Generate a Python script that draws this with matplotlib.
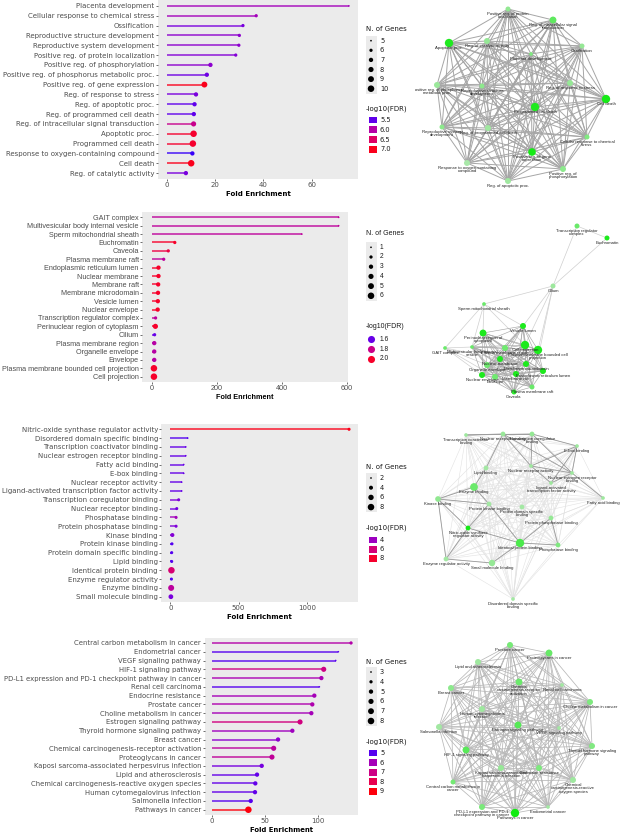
import itertools
import textwrap
import numpy as np
import matplotlib
matplotlib.use('Agg')
import matplotlib.pyplot as plt
from matplotlib.colors import LinearSegmentedColormap
from matplotlib.collections import LineCollection
from matplotlib.patches import Rectangle

W, H = 621, 833

# ---- Biological process ----
bp_terms = ['Placenta development', 'Cellular response to chemical stress', 'Ossification',
            'Reproductive structure development', 'Reproductive system development',
            'Positive reg. of protein localization', 'Positive reg. of phosphorylation',
            'Positive reg. of phosphorus metabolic proc.', 'Positive reg. of gene expression',
            'Reg. of response to stress', 'Reg. of apoptotic proc.', 'Reg. of programmed cell death',
            'Reg. of intracellular signal transduction', 'Apoptotic proc.', 'Programmed cell death',
            'Response to oxygen-containing compound', 'Cell death', 'Reg. of catalytic activity']
bp_fold = [75.5, 37.0, 31.5, 30.0, 29.8, 28.5, 18.0, 16.5, 15.5, 12.0, 11.4, 11.1, 11.0, 11.0, 10.7, 10.5, 10.0, 7.8]
bp_genes = [5, 6, 6, 6, 6, 6, 7, 7, 9, 7, 7, 7, 8, 10, 10, 7, 10, 7]
bp_fdr = [5.85, 5.85, 5.6, 5.7, 5.7, 5.65, 5.7, 5.55, 7.0, 5.6, 5.5, 5.5, 6.2, 6.9, 6.9, 5.4, 7.0, 5.6]
bp_xticks = [0, 20, 40, 60]
bp_gene_keys = [5, 6, 7, 8, 9, 10]
bp_fdr_keys = [5.5, 6.0, 6.5, 7.0]
bp_net_x = [531, 587, 582, 482, 442, 508, 563, 437, 532, 570, 508, 488, 553, 449, 535, 467, 606, 487]
bp_net_y = [54, 137, 46, 86, 127, 9, 169, 85, 152, 83, 181, 128, 20, 43, 107, 163, 99, 41]

# ---- Cellular component ----
cc_terms = ['GAIT complex', 'Multivesicular body internal vesicle', 'Sperm mitochondrial sheath',
            'Euchromatin', 'Caveola', 'Plasma membrane raft', 'Endoplasmic reticulum lumen',
            'Nuclear membrane', 'Membrane raft', 'Membrane microdomain', 'Vesicle lumen',
            'Nuclear envelope', 'Transcription regulator complex', 'Perinuclear region of cytoplasm',
            'Cilium', 'Plasma membrane region', 'Organelle envelope', 'Envelope',
            'Plasma membrane bounded cell projection', 'Cell projection']
cc_fold = [574, 574, 461, 71, 51, 37, 21, 21, 20, 19.5, 19, 18.5, 12, 11.5, 9, 8, 8, 8, 7, 7]
cc_genes = [1, 1, 1, 2, 2, 2, 3, 3, 3, 3, 3, 3, 2, 4, 2, 3, 3, 3, 6, 6]
cc_fdr = [1.76, 1.76, 1.76, 2.0, 1.95, 1.76, 2.0, 2.0, 2.0, 2.0, 2.0, 2.0, 1.76, 2.0, 1.6, 1.74, 1.74, 1.74, 2.0, 2.0]
cc_xticks = [0, 200, 400, 600]
cc_gene_keys = [1, 2, 3, 4, 5, 6]
cc_fdr_keys = [1.6, 1.8, 2.0]
cc_net_x = [445, 472, 484, 607, 514, 532, 543, 500, 516, 526, 523, 482, 577, 483, 553, 505, 487, 495, 538, 525]
cc_net_y = [348, 347, 304, 238, 392, 387, 371, 359, 374, 364, 326, 375, 226, 333, 286, 348, 365, 377, 350, 345]
cc_edges = [(12, 3), (12, 14), (3, 14), (14, 2), (14, 19), (14, 18), (14, 10), (14, 5),
            (2, 0), (2, 1), (2, 13), (2, 10), (2, 19), (0, 1), (0, 11), (0, 16), (0, 17), (0, 7)]
cc_cluster = [1, 4, 5, 6, 7, 8, 9, 10, 11, 13, 15, 16, 17, 18, 19]

# ---- Molecular function ----
mf_terms = ['Nitric-oxide synthase regulator activity', 'Disordered domain specific binding',
            'Transcription coactivator binding', 'Nuclear estrogen receptor binding', 'Fatty acid binding',
            'E-box binding', 'Nuclear receptor activity', 'Ligand-activated transcription factor activity',
            'Transcription coregulator binding', 'Nuclear receptor binding', 'Phosphatase binding',
            'Protein phosphatase binding', 'Kinase binding', 'Protein kinase binding',
            'Protein domain specific binding', 'Lipid binding', 'Identical protein binding',
            'Enzyme regulator activity', 'Enzyme binding', 'Small molecule binding']
mf_fold = [1310, 127, 113, 113, 98, 98, 83, 83, 61, 47, 42, 42, 15, 12, 10, 10, 8, 8, 6, 4]
mf_genes = [3, 2, 2, 2, 2, 2, 2, 2, 3, 3, 3, 3, 4, 3, 3, 3, 8, 3, 7, 5]
mf_fdr = [8.4, 2.8, 3.0, 3.0, 3.0, 3.0, 3.0, 3.0, 3.4, 3.2, 4.2, 3.4, 3.5, 2.8, 2.8, 2.8, 6.2, 2.8, 5.0, 3.3]
mf_xticks = [0, 500, 1000]
mf_gene_keys = [2, 4, 6, 8]
mf_fdr_keys = [4, 6, 8]
mf_net_x = [468, 513, 466, 572, 603, 577, 531, 551, 532, 503, 558, 551, 438, 489, 522, 486, 520, 446, 474, 492]
mf_net_y = [528, 599, 435, 473, 498, 446, 466, 483, 434, 434, 545, 518, 499, 504, 507, 468, 543, 559, 487, 563]
mf_strong = [(2, 8), (2, 9), (8, 9), (8, 5), (8, 3), (8, 6), (9, 6), (9, 3), (6, 3), (6, 7), (3, 7),
             (5, 3), (5, 7), (5, 6), (3, 4), (12, 13), (12, 0), (12, 17), (12, 18), (0, 17), (0, 13),
             (0, 16), (13, 16), (16, 10), (10, 11), (16, 11), (17, 19), (19, 16), (18, 13), (15, 18), (15, 9)]

# ---- KEGG ----
kg_terms = ['Central carbon metabolism in cancer', 'Endometrial cancer', 'VEGF signaling pathway',
            'HIF-1 signaling pathway', 'PD-L1 expression and PD-1 checkpoint pathway in cancer',
            'Renal cell carcinoma', 'Endocrine resistance', 'Prostate cancer', 'Choline metabolism in cancer',
            'Estrogen signaling pathway', 'Thyroid hormone signaling pathway', 'Breast cancer',
            'Chemical carcinogenesis-receptor activation', 'Proteoglycans in cancer',
            'Kaposi sarcoma-associated herpesvirus infection', 'Lipid and atherosclerosis',
            'Chemical carcinogenesis-reactive oxygen species', 'Human cytomegalovirus infection',
            'Salmonella infection', 'Pathways in cancer']
kg_fold = [130.6, 118.7, 116.2, 105.0, 102.8, 100.9, 96.2, 94.3, 93.4, 82.8, 75.6, 62.2, 58.1, 56.5,
           46.9, 42.5, 40.9, 40.6, 36.6, 34.4]
kg_genes = [4, 3, 3, 6, 5, 3, 5, 5, 5, 6, 5, 5, 6, 6, 5, 5, 5, 5, 5, 8]
kg_fdr = [6.3, 5.0, 5.0, 7.0, 6.1, 5.0, 6.0, 6.2, 6.0, 7.1, 5.9, 5.6, 6.5, 6.6, 5.3, 5.1, 5.1, 5.1, 5.0, 9.0]
kg_xticks = [0, 50, 100]
kg_gene_keys = [3, 4, 5, 6, 7, 8]
kg_fdr_keys = [5, 6, 7, 8, 9]
kg_net_x = [453, 548, 559, 466, 482, 562, 539, 510, 590, 518, 592, 451, 519, 549, 501, 478, 573, 482, 439, 515]
kg_net_y = [782, 807, 728, 750, 807, 685, 768, 645, 702, 725, 746, 688, 682, 653, 768, 662, 780, 709, 727, 813]


# blue -> red gradient interpolated in Lab (like ggplot)
M = np.array([[0.4124, 0.3576, 0.1805], [0.2126, 0.7152, 0.0722], [0.0193, 0.1192, 0.9505]])
WHITE = np.array([0.95047, 1.0, 1.08883])


def to_lab(c):
    c = np.asarray(c, float)
    lin = np.where(c <= 0.04045, c / 12.92, ((c + 0.055) / 1.055) ** 2.4)
    xyz = M @ lin / WHITE
    f = np.where(xyz > 0.008856, np.cbrt(xyz), 7.787 * xyz + 16 / 116)
    return np.array([116 * f[1] - 16, 500 * (f[0] - f[1]), 200 * (f[1] - f[2])])


def from_lab(lab):
    fy = (lab[0] + 16) / 116
    f = np.array([fy + lab[1] / 500, fy, fy - lab[2] / 200])
    xyz = np.where(f > 0.2069, f ** 3, (f - 16 / 116) / 7.787) * WHITE
    lin = np.clip(np.linalg.solve(M, xyz), 0, 1)
    return np.clip(np.where(lin <= 0.0031308, 12.92 * lin, 1.055 * lin ** (1 / 2.4) - 0.055), 0, 1)


lab_lo, lab_hi = to_lab([0, 0, 1]), to_lab([1, 0, 0])
cmap = LinearSegmentedColormap.from_list(
    'bluered', [from_lab(lab_lo + t * (lab_hi - lab_lo)) for t in np.linspace(0, 1, 64)])

node_lo = np.array([0.68, 0.91, 0.68])
node_hi = np.array([0.05, 0.92, 0.05])


def scaled(v, lims):
    return np.clip((np.asarray(v, float) - lims[0]) / (lims[1] - lims[0]), 0, 1)


def size_of(n, glims, lo=1.5, hi=22):
    return lo + scaled(n, glims) * (hi - lo)


fig = plt.figure(figsize=(W / 100, H / 100), dpi=100)


def lollipop(box, terms, fold, genes, fdr, lims, glims, xticks, family, fs):
    l, t, r, b = box
    ax = fig.add_axes([l / W, 1 - b / H, (r - l) / W, (b - t) / H])
    ax.set_facecolor('#ebebeb')
    y = np.arange(len(terms))
    cols = cmap(scaled(fdr, lims))
    ax.hlines(y, 0, fold, colors=cols, lw=1.1, alpha=0.9)
    ax.scatter(fold, y, s=size_of(genes, glims), c=cols, lw=0, zorder=3, clip_on=False)
    m = max(fold)
    ax.set_xlim(-0.05 * m, 1.05 * m)
    ax.set_ylim(len(terms) - 0.4, -0.6)
    ax.set_yticks(y, terms)
    ax.set_xticks(xticks)
    for s in ax.spines.values():
        s.set_visible(False)
    ax.tick_params(length=1.5, width=0.5, color='#333333', labelsize=fs, labelcolor='#4d4d4d', pad=1)
    ax.set_xlabel('Fold Enrichment', fontsize=fs, fontweight='bold', labelpad=1.5, family=family)
    for lab in ax.get_yticklabels() + ax.get_xticklabels():
        lab.set_family(family)


def legend(ntop, gap_n, step_n, ftop, gap_f, step_f, gkeys, glims, fkeys, lims, family, round_keys):
    lg.text(366, ntop, 'N. of Genes', fontsize=5, family=family, va='center', color='#1a1a1a')
    ys = ntop + gap_n + step_n * np.arange(len(gkeys))
    lg.add_patch(Rectangle((366, ys[0] - step_n / 2), 10.5, step_n * len(gkeys), color='#ebebeb', lw=0))
    lg.scatter(np.full(len(gkeys), 371), ys, s=size_of(gkeys, glims), c='black', lw=0)
    for yy, v in zip(ys, gkeys):
        lg.text(380, yy, str(v), fontsize=4.8, family=family, va='center', color='#1a1a1a')
    lg.text(366, ftop, '-log10(FDR)', fontsize=5, family=family, va='center', color='#1a1a1a')
    fy = ftop + gap_f + step_f * np.arange(len(fkeys))
    fc = cmap(scaled(fkeys, lims))
    for yy, v, c in zip(fy, fkeys, fc):
        if round_keys:
            lg.scatter([371], [yy], s=26, color=c, lw=0)
        else:
            lg.add_patch(Rectangle((368.5, yy - 3.4), 8, 6.8, color=c, lw=0))
        lg.text(380, yy, str(v), fontsize=4.8, family=family, va='center', color='#1a1a1a')


def network(box, xs, ys, terms, genes, fdr, lims, glims, edge_sets):
    l, t, r, b = box
    ax = fig.add_axes([l / W, 1 - b / H, (r - l) / W, (b - t) / H])
    ax.set_xlim(l, r)
    ax.set_ylim(b, t)
    ax.axis('off')
    for edges, col, lw in edge_sets:
        segs = [[(xs[i], ys[i]), (xs[j], ys[j])] for i, j in edges]
        ax.add_collection(LineCollection(segs, colors=col, linewidths=lw, zorder=1))
    tt = scaled(fdr, lims)[:, None]
    cols = node_lo + tt * (node_hi - node_lo)
    ax.scatter(xs, ys, s=size_of(genes, glims, 7, 36), c=cols, lw=0, zorder=2)
    for x, y, name in zip(xs, ys, terms):
        ax.text(x, y + 2.8, textwrap.fill(name, 29, break_on_hyphens=False), fontsize=3.1,
                family='Liberation Sans', ha='center', va='top', linespacing=0.85,
                color='#222222', zorder=3, clip_on=True)


lg = fig.add_axes([0, 0, 1, 1])
lg.set_xlim(0, W)
lg.set_ylim(H, 0)
lg.axis('off')

bp_lims, cc_lims, mf_lims, kg_lims = (5.35, 7.1), (1.55, 2.05), (2.4, 8.7), (4.7, 9.1)

lollipop((158, 0, 358, 179), bp_terms, bp_fold, bp_genes, bp_fdr, bp_lims, (5, 10), bp_xticks, 'DejaVu Sans', 5.0)
lollipop((142.3, 212.3, 348, 381.7), cc_terms, cc_fold, cc_genes, cc_fdr, cc_lims, (1, 6), cc_xticks, 'Liberation Sans', 5.2)
lollipop((161.4, 424, 358, 602), mf_terms, mf_fold, mf_genes, mf_fdr, mf_lims, (2, 8), mf_xticks, 'DejaVu Sans', 5.0)
lollipop((204.7, 637.7, 358, 815), kg_terms, kg_fold, kg_genes, kg_fdr, kg_lims, (3, 8), kg_xticks, 'DejaVu Sans', 4.95)

legend(29, 11.7, 9.6, 109, 11, 9.8, bp_gene_keys, (5, 10), bp_fdr_keys, bp_lims, 'DejaVu Sans', False)
legend(233, 14.3, 9.7, 326, 13.3, 9.7, cc_gene_keys, (1, 6), cc_fdr_keys, cc_lims, 'Liberation Sans', True)
legend(467, 11, 9.7, 528, 12, 9.2, mf_gene_keys, (2, 8), mf_fdr_keys, mf_lims, 'DejaVu Sans', False)
legend(661.7, 10.3, 9.8, 742, 11, 9.6, kg_gene_keys, (3, 8), kg_fdr_keys, kg_lims, 'DejaVu Sans', False)

bp_all = list(itertools.combinations(range(len(bp_terms)), 2))
cc_inner = list(itertools.combinations(cc_cluster, 2))
mf_all = list(itertools.combinations(range(len(mf_terms)), 2))
kg_all = list(itertools.combinations(range(len(kg_terms)), 2))

network((415, 0, 621, 195), bp_net_x, bp_net_y, bp_terms, bp_genes, bp_fdr, bp_lims, (5, 10),
        [(bp_all, '#a6a6a6', 0.7)])
network((415, 212, 621, 400), cc_net_x, cc_net_y, cc_terms, cc_genes, cc_fdr, cc_lims, (1, 6),
        [(cc_edges, '#cfcfcf', 0.5), (cc_inner, '#a8a8a8', 0.45)])
network((415, 420, 621, 618), mf_net_x, mf_net_y, mf_terms, mf_genes, mf_fdr, mf_lims, (2, 8),
        [(mf_all, '#e2e2e2', 0.4), (mf_strong, '#9a9a9a', 0.6)])
network((415, 630, 621, 833), kg_net_x, kg_net_y, kg_terms, kg_genes, kg_fdr, kg_lims, (3, 8),
        [(kg_all, '#b8b8b8', 0.55)])

fig.savefig('out.png', dpi=100)
